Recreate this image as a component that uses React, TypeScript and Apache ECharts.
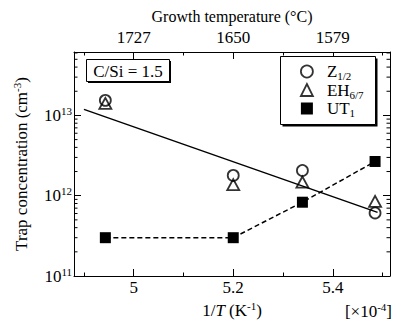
import React, { useEffect, useRef } from "react";
import * as echarts from "echarts";

// ---- data (1/T in units of 1e-4 K^-1, concentrations in cm^-3) ----
const xValues = [4.943, 5.2, 5.339, 5.485];
const z12Values = [1.54e13, 1.79e12, 2.06e12, 6.1e11];
const eh67Values = [1.41e13, 1.37e12, 1.48e12, 8.5e11];
const ut1Values = [3.0e11, 3.0e11, 8.3e11, 2.67e12];
const fitX = [4.9, 5.49];
const fitY = [1.19e13, 6.2e11];

// ---- ticks ----
const xMajorTicks = [5, 5.2, 5.4];
const xMinorTicks = [4.9, 5.1, 5.3, 5.5];
const xBottomLabels = ["5", "5.2", "5.4"];
const xTopLabels = ["1727", "1650", "1579"];
const yMinorTicks = [
  2e11, 3e11, 4e11, 5e11, 6e11, 7e11, 8e11, 9e11,
  2e12, 3e12, 4e12, 5e12, 6e12, 7e12, 8e12, 9e12,
  2e13, 3e13, 4e13, 5e13, 6e13,
];

const X_MIN = 4.88;
const X_MAX = 5.515;
const Y_MIN = 1e11;
const Y_MAX = Math.pow(10, 13.79);

const FONT = "Liberation Serif";
const FS = 17;

const richBase = {
  b: { fontFamily: FONT, fontSize: FS, color: "#000", lineHeight: 20 },
  i: { fontFamily: FONT, fontSize: FS, color: "#000", lineHeight: 20, fontStyle: "italic" },
  s: { fontFamily: FONT, fontSize: 11, color: "#000", lineHeight: 11, verticalAlign: "top" },
  u: { fontFamily: FONT, fontSize: 11, color: "#000", lineHeight: 11, verticalAlign: "bottom" },
  g: { width: 9 },
};

function lookup(vals: number[], labels: string[], v: number) {
  for (let k = 0; k < vals.length; k++) {
    if (Math.abs(vals[k] - v) < 1e-6) return labels[k];
  }
  return "";
}

export default function App() {
  const ref = useRef<HTMLDivElement>(null);

  useEffect(() => {
    if (!ref.current) return;
    const chart = echarts.init(ref.current, null, { renderer: "svg" });

    const axisLineStyle = { lineStyle: { color: "#000", width: 1 } };
    const baseX = {
      type: "value",
      min: X_MIN,
      max: X_MAX,
      splitLine: { show: false },
    };

    const legendNames: Record<string, string> = {
      "Z1/2": "{g|}{b|Z}{u|1/2}",
      "EH6/7": "{g|}{b|EH}{u|6/7}",
      UT1: "{g|}{b|UT}{u|1}",
    };

    const option: any = {
      animation: false,
      textStyle: { fontFamily: FONT },
      grid: { left: 74, right: 3, top: 52, bottom: 52, containLabel: false },
      xAxis: [
        {
          ...baseX,
          position: "bottom",
          axisLine: { show: true, ...axisLineStyle },
          axisTick: { show: true, inside: true, length: 7, customValues: xMajorTicks, lineStyle: { color: "#000" } },
          axisLabel: {
            show: true,
            customValues: xMajorTicks,
            margin: 3,
            fontFamily: FONT,
            fontSize: FS,
            color: "#000",
            formatter: (v: number) => lookup(xMajorTicks, xBottomLabels, v),
          },
          name: "{b|1/}{i|T}{b| (K}{s|-1}{b|)}",
          nameLocation: "middle",
          nameGap: 22,
          nameTextStyle: { fontFamily: FONT, rich: richBase },
        },
        {
          ...baseX,
          position: "bottom",
          axisLine: { show: false },
          axisTick: { show: true, inside: true, length: 3.5, customValues: xMinorTicks, lineStyle: { color: "#000" } },
          axisLabel: { show: false },
        },
        {
          ...baseX,
          position: "top",
          axisLine: { show: true, ...axisLineStyle },
          axisTick: { show: true, inside: true, length: 7, customValues: xMajorTicks, lineStyle: { color: "#000" } },
          axisLabel: {
            show: true,
            customValues: xMajorTicks,
            margin: 6,
            fontFamily: FONT,
            fontSize: FS,
            color: "#000",
            formatter: (v: number) => lookup(xMajorTicks, xTopLabels, v),
          },
          name: "Growth temperature (°C)",
          nameLocation: "middle",
          nameGap: 28,
          nameTextStyle: { fontFamily: FONT, fontSize: 16, color: "#000" },
        },
        {
          ...baseX,
          position: "top",
          axisLine: { show: false },
          axisTick: { show: true, inside: true, length: 3.5, customValues: xMinorTicks, lineStyle: { color: "#000" } },
          axisLabel: { show: false },
        },
      ],
      yAxis: [
        {
          type: "log",
          logBase: 10,
          min: Y_MIN,
          max: Y_MAX,
          position: "left",
          splitLine: { show: false },
          axisLine: { show: true, ...axisLineStyle },
          axisTick: { show: true, inside: true, length: 7, lineStyle: { color: "#000" } },
          axisLabel: {
            show: true,
            margin: 2,
            showMaxLabel: false,
            fontFamily: FONT,
            formatter: (v: number) => {
              const e = Math.log10(v);
              if (Math.abs(e - Math.round(e)) > 1e-6) return "";
              return `{b|10}{s|${Math.round(e)}}`;
            },
            rich: richBase,
          },
          name: "{b|Trap concentration (cm}{s|-3}{b|)}",
          nameLocation: "middle",
          nameGap: 43,
          nameTextStyle: { fontFamily: FONT, rich: richBase },
        },
        {
          type: "log",
          logBase: 10,
          min: Y_MIN,
          max: Y_MAX,
          position: "right",
          splitLine: { show: false },
          axisLine: { show: true, ...axisLineStyle },
          axisTick: { show: true, inside: true, length: 7, lineStyle: { color: "#000" } },
          axisLabel: { show: false },
        },
      ],
      legend: {
        orient: "vertical",
        left: 300,
        top: 63,
        padding: 0,
        itemGap: 0,
        itemWidth: 12,
        itemHeight: 12,
        selectedMode: false,
        data: [
          { name: "Z1/2", icon: "circle", itemStyle: { color: "transparent", borderColor: "#000", borderWidth: 1.8 } },
          { name: "EH6/7", icon: "triangle", itemStyle: { color: "transparent", borderColor: "#000", borderWidth: 1.8 } },
          { name: "UT1", icon: "rect", itemStyle: { color: "#000", borderWidth: 0 } },
        ],
        formatter: (name: string) => legendNames[name] || name,
        textStyle: { fontFamily: FONT, fontSize: FS, color: "#000", rich: richBase },
      },
      graphic: [
        // C/Si box
        { type: "rect", shape: { x: 88, y: 61, width: 83, height: 22 }, style: { fill: "#000" }, z: 1 },
        { type: "rect", shape: { x: 86.5, y: 59.5, width: 83, height: 22 }, style: { fill: "#fff", stroke: "#000", lineWidth: 1 }, z: 1 },
        {
          type: "text",
          x: 128,
          y: 71,
          z: 2,
          style: { text: "C/Si = 1.5", font: `${FS}px ${FONT}`, fill: "#000", align: "center", verticalAlign: "middle" },
        },
        // legend box
        { type: "rect", shape: { x: 282.5, y: 58.5, width: 95, height: 68 }, style: { fill: "#000" }, z: 1 },
        { type: "rect", shape: { x: 280.5, y: 56.5, width: 95, height: 68 }, style: { fill: "#fff", stroke: "#000", lineWidth: 1 }, z: 1 },
        // x-axis multiplier
        {
          type: "text",
          x: 392,
          y: 311,
          z: 2,
          style: {
            text: "{b|[×10}{s|-4}{b|]}",
            rich: richBase,
            font: `${FS}px ${FONT}`,
            align: "right",
            verticalAlign: "middle",
            fill: "#000",
          },
        },
      ],
      series: [
        {
          name: "fit",
          type: "line",
          xAxisIndex: 0,
          yAxisIndex: 0,
          data: fitX.map((x, k) => [x, fitY[k]]),
          showSymbol: false,
          silent: true,
          lineStyle: { color: "#000", width: 1.5 },
          z: 2,
        },
        {
          name: "UT1",
          type: "line",
          xAxisIndex: 0,
          yAxisIndex: 0,
          data: xValues.map((x, k) => [x, ut1Values[k]]),
          symbol: "rect",
          symbolSize: 11,
          showAllSymbol: true,
          itemStyle: { color: "#000" },
          lineStyle: { color: "#000", width: 1.5, type: [5, 3] },
          z: 3,
        },
        {
          name: "Z1/2",
          type: "scatter",
          xAxisIndex: 0,
          yAxisIndex: 0,
          data: xValues.map((x, k) => [x, z12Values[k]]),
          symbol: "circle",
          symbolSize: 11,
          itemStyle: { color: "transparent", borderColor: "#000", borderWidth: 1.8 },
          z: 4,
        },
        {
          name: "EH6/7",
          type: "scatter",
          xAxisIndex: 0,
          yAxisIndex: 0,
          data: xValues.map((x, k) => [x, eh67Values[k]]),
          symbol: "triangle",
          symbolSize: [12, 11],
          itemStyle: { color: "transparent", borderColor: "#000", borderWidth: 1.8 },
          z: 4,
        },
        {
          name: "yMinorTicks",
          type: "custom",
          xAxisIndex: 0,
          yAxisIndex: 0,
          silent: true,
          clip: false,
          data: yMinorTicks.map((v) => [X_MIN, v]),
          renderItem: (params: any, api: any) => {
            const y = api.coord([X_MIN, api.value(1)])[1];
            const cs = params.coordSys;
            return {
              type: "group",
              children: [
                { type: "line", shape: { x1: cs.x, y1: y, x2: cs.x + 3.5, y2: y }, style: { stroke: "#000", lineWidth: 1 } },
                {
                  type: "line",
                  shape: { x1: cs.x + cs.width - 3.5, y1: y, x2: cs.x + cs.width, y2: y },
                  style: { stroke: "#000", lineWidth: 1 },
                },
              ],
            };
          },
          z: 5,
        },
      ],
    };

    chart.setOption(option);
    return () => chart.dispose();
  }, []);

  return (
    <div
      ref={ref}
      style={{ position: "absolute", left: 0, top: 0, width: 393, height: 328, background: "#fff" }}
    />
  );
}
